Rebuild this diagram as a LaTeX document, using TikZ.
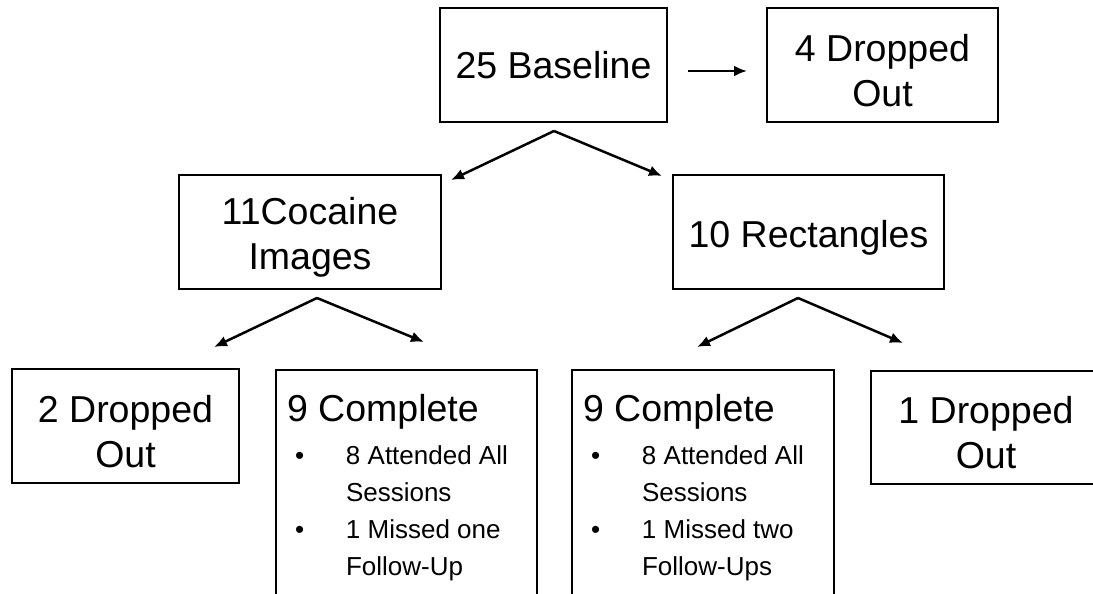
\documentclass[tikz,border=0pt]{standalone}
\usepackage{fontspec}
\setmainfont{Liberation Sans}
\usetikzlibrary{arrows.meta}
\newcommand{\bigtext}{\fontsize{37.5bp}{45bp}\selectfont}
\newcommand{\smalltext}{\fontsize{26bp}{37bp}\selectfont}
\newcommand{\htfix}{\rule{0pt}{38bp}}
\newcommand{\bul}{\makebox[59bp][l]{\hspace*{8bp}\textbullet}}
\newcommand{\ind}{\hspace*{59bp}}
\begin{document}
\begin{tikzpicture}[x=1bp,y=-1bp,>={Latex[length=13bp,width=11bp]},line join=miter,
  box/.style={draw,line width=2bp,outer sep=0pt,inner sep=0pt,align=center,font=\bigtext},
  listbox/.style={draw,line width=2bp,outer sep=0pt,inner xsep=11bp,inner ysep=24.6bp,
    align=flush left,font=\smalltext,anchor=north west},
  link/.style={->,line width=2.5bp}]
\clip (0,0) rectangle (1093,594);
%%
  % Node: base
  \node[box,minimum width=227bp,minimum height=114bp] (base) at (553.5,65) {25 Baseline};
  % Node: drop4
  \node[box,minimum width=231bp,minimum height=114bp] (drop4) at (882.5,65) {\htfix 4 Dropped\\Out};
  % Node: cocaine
  \node[box,minimum width=262bp,minimum height=114bp] (cocaine) at (310,232) {\htfix 11Cocaine\\Images};
  % Node: rect
  \node[box,minimum width=271bp,minimum height=114bp] (rect) at (808.5,232) {\htfix 10 Rectangles};
  % Node: drop2
  \node[box,minimum width=227bp,minimum height=114bp] (drop2) at (125.5,426) {\htfix 2 Dropped\\Out};
  % Node: comp1
  \node[listbox,text width=239bp] (comp1) at (276,370) {{\bigtext 9 Complete}\\[6bp]
    \bul 8 Attended All\\
    \ind Sessions\\
    \bul 1 Missed one\\
    \ind Follow-Up};
  % Node: comp2
  \node[listbox,text width=240bp] (comp2) at (572,370) {{\bigtext 9 Complete}\\[6bp]
    \bul 8 Attended All\\
    \ind Sessions\\
    \bul 1 Missed two\\
    \ind Follow-Ups};
  % Node: drop1
  \node[box,minimum width=230bp,minimum height=113bp] (drop1) at (986,427.5) {\htfix 1 Dropped\\Out};
%%
  \coordinate (split0) at (554,131);
  \coordinate (split0l) at (451,180);
  \coordinate (split0r) at (662,176);
  \coordinate (split1) at (317,298);
  \coordinate (split1l) at (214,347);
  \coordinate (split1r) at (424,342);
  \coordinate (split2) at (798,298);
  \coordinate (split2l) at (697,347);
  \coordinate (split2r) at (903,343);
  % Edge: base -> drop4
  \draw[link,shorten <=21bp,shorten >=20bp] ([yshift=-6bp]base.east) -- ([yshift=-6bp]drop4.west);
  % Edge: base -> cocaine, rect
  \draw[link] (split0) -- (split0l);
  \draw[link] (split0) -- (split0r);
  % Edge: cocaine -> drop2, comp1
  \draw[link] (split1) -- (split1l);
  \draw[link] (split1) -- (split1r);
  % Edge: rect -> comp2, drop1
  \draw[link] (split2) -- (split2l);
  \draw[link] (split2) -- (split2r);
%
\end{tikzpicture}
\end{document}
